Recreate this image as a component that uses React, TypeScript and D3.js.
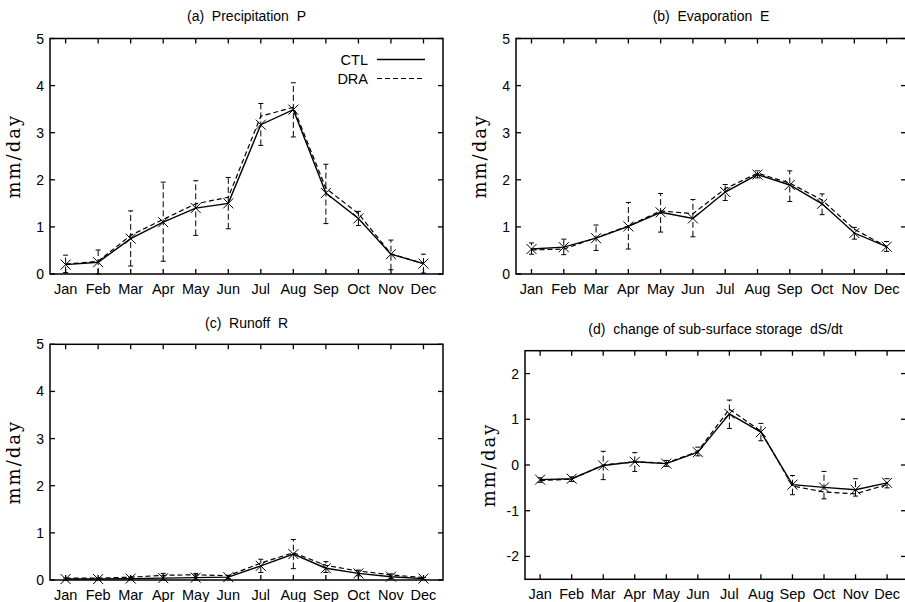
import * as d3 from 'd3';

// month labels
const months = ['Jan', 'Feb', 'Mar', 'Apr', 'May', 'Jun', 'Jul', 'Aug', 'Sep', 'Oct', 'Nov', 'Dec'];
const monthIdx = [1, 2, 3, 4, 5, 6, 7, 8, 9, 10, 11, 12];

// (a) precipitation
const precipCtl = [0.2, 0.25, 0.75, 1.1, 1.4, 1.5, 3.17, 3.49, 1.72, 1.18, 0.42, 0.22];
const precipDra = [0.21, 0.27, 0.82, 1.16, 1.49, 1.63, 3.35, 3.54, 1.82, 1.28, 0.43, 0.22];
const precipLo = [0.03, 0.0, 0.17, 0.27, 0.82, 0.96, 2.73, 2.91, 1.07, 1.03, 0.09, 0.02];
const precipHi = [0.4, 0.51, 1.34, 1.95, 1.98, 2.05, 3.62, 4.06, 2.33, 1.33, 0.72, 0.42];

// (b) evaporation
const evapCtl = [0.53, 0.57, 0.76, 1.01, 1.31, 1.18, 1.74, 2.11, 1.89, 1.49, 0.87, 0.58];
const evapDra = [0.51, 0.53, 0.77, 1.02, 1.34, 1.28, 1.81, 2.14, 1.93, 1.57, 0.95, 0.58];
const evapLo = [0.42, 0.41, 0.5, 0.53, 0.89, 0.79, 1.56, 2.04, 1.54, 1.26, 0.74, 0.48];
const evapHi = [0.66, 0.74, 1.04, 1.52, 1.71, 1.58, 1.9, 2.19, 2.19, 1.7, 0.99, 0.69];

// (c) runoff
const runoffCtl = [0.02, 0.02, 0.03, 0.04, 0.05, 0.06, 0.3, 0.55, 0.25, 0.14, 0.07, 0.03];
const runoffDra = [0.04, 0.04, 0.06, 0.1, 0.11, 0.09, 0.36, 0.58, 0.31, 0.19, 0.11, 0.05];
const runoffLo = [0.0, 0.0, 0.01, 0.0, 0.0, 0.03, 0.16, 0.24, 0.16, 0.09, 0.03, 0.01];
const runoffHi = [0.04, 0.04, 0.06, 0.14, 0.14, 0.1, 0.44, 0.86, 0.39, 0.21, 0.13, 0.05];

// (d) dS/dt
const dsdtCtl = [-0.32, -0.3, -0.01, 0.07, 0.03, 0.28, 1.12, 0.72, -0.43, -0.49, -0.54, -0.39];
const dsdtDra = [-0.34, -0.31, 0.0, 0.07, 0.04, 0.3, 1.22, 0.74, -0.46, -0.59, -0.63, -0.43];
const dsdtLo = [-0.38, -0.36, -0.32, -0.14, -0.03, 0.2, 0.8, 0.53, -0.65, -0.74, -0.68, -0.5];
const dsdtHi = [-0.28, -0.26, 0.3, 0.27, 0.1, 0.39, 1.42, 0.91, -0.23, -0.14, -0.3, -0.3];

const ticks05 = [0, 1, 2, 3, 4, 5];
const ticksPm2 = [-2, -1, 0, 1, 2];

const SANS = '"Liberation Sans", Arial, Helvetica, sans-serif';
const SERIF = '"DejaVu Serif", serif';
const DASH = '5,3';

interface PanelProps {
  title: string;
  left: number;
  right: number;
  top: number;
  bottom: number;
  yDomain: [number, number];
  yTicks: number[];
  ctl: number[];
  dra: number[];
  lo: number[];
  hi: number[];
  titleY: number;
  legend?: boolean;
}

function Panel(p: PanelProps) {
  const x = d3.scaleLinear().domain([0.52, 12.6]).range([p.left, p.right]);
  const y = d3.scaleLinear().domain(p.yDomain).range([p.bottom, p.top]);
  const line = d3
    .line<number>()
    .x((_, i) => x(monthIdx[i]))
    .y((d) => y(d));
  const tl = 5; // tick length (inward)
  const cs = 5; // cross half size
  const cap = 2.5;
  const cx = (p.left + p.right) / 2;
  const cy = (p.top + p.bottom) / 2;

  return (
    <g>
      <text x={cx} y={p.titleY} textAnchor="middle" fontFamily={SANS} fontSize={14} style={{ whiteSpace: 'pre' }}>
        {p.title}
      </text>
      <text
        transform={`translate(${p.left - 30},${cy}) rotate(-90)`}
        textAnchor="middle"
        fontFamily={SERIF}
        fontSize={18}
        letterSpacing={2}
      >
        mm/day
      </text>
      {/* y ticks */}
      {p.yTicks.map((t) => (
        <g key={'y' + t}>
          <line x1={p.left} x2={p.left + tl} y1={y(t)} y2={y(t)} stroke="#000" strokeWidth={1.3} />
          <line x1={p.right} x2={p.right - tl} y1={y(t)} y2={y(t)} stroke="#000" strokeWidth={1.3} />
          <text x={p.left - 6} y={y(t) + 5} textAnchor="end" fontFamily={SANS} fontSize={14}>
            {t}
          </text>
        </g>
      ))}
      {/* x ticks */}
      {months.map((m, i) => (
        <g key={m}>
          <line x1={x(monthIdx[i])} x2={x(monthIdx[i])} y1={p.bottom} y2={p.bottom - tl} stroke="#000" strokeWidth={1.3} />
          <line x1={x(monthIdx[i])} x2={x(monthIdx[i])} y1={p.top} y2={p.top + tl} stroke="#000" strokeWidth={1.3} />
          <text x={x(monthIdx[i])} y={p.bottom + 20} textAnchor="middle" fontFamily={SANS} fontSize={14.5}>
            {m}
          </text>
        </g>
      ))}
      {/* error bars */}
      {p.lo.map((lo, i) => {
        const xx = x(monthIdx[i]);
        return (
          <g key={'e' + i} stroke="#000" strokeWidth={1}>
            <line x1={xx} x2={xx} y1={y(lo)} y2={y(p.hi[i])} strokeDasharray="6,3" />
            <line x1={xx - cap} x2={xx + cap} y1={y(lo)} y2={y(lo)} />
            <line x1={xx - cap} x2={xx + cap} y1={y(p.hi[i])} y2={y(p.hi[i])} />
          </g>
        );
      })}
      <path d={line(p.dra) || ''} fill="none" stroke="#000" strokeWidth={1.2} strokeDasharray={DASH} />
      <path d={line(p.ctl) || ''} fill="none" stroke="#000" strokeWidth={1.4} />
      {/* cross markers */}
      {p.ctl.map((v, i) => {
        const xx = x(monthIdx[i]);
        const yy = y(v);
        return (
          <path
            key={'c' + i}
            d={`M${xx - cs},${yy - cs}L${xx + cs},${yy + cs}M${xx - cs},${yy + cs}L${xx + cs},${yy - cs}`}
            stroke="#000"
            strokeWidth={1}
          />
        );
      })}
      {p.legend && (
        <g fontFamily={SANS} fontSize={14.5}>
          <text x={p.right - 75} y={65} textAnchor="end">CTL</text>
          <line x1={p.right - 66} x2={p.right - 18} y1={59.5} y2={59.5} stroke="#000" strokeWidth={1.4} />
          <text x={p.right - 75} y={84} textAnchor="end">DRA</text>
          <line x1={p.right - 66} x2={p.right - 18} y1={78.5} y2={78.5} stroke="#000" strokeWidth={1.2} strokeDasharray={DASH} />
        </g>
      )}
      <rect x={p.left} y={p.top} width={p.right - p.left} height={p.bottom - p.top} fill="none" stroke="#000" strokeWidth={1.5} />
    </g>
  );
}

export default function App() {
  return (
    <svg width={905} height={602} style={{ position: 'absolute', left: 0, top: 0, background: '#fff' }}>
      <rect width={905} height={602} fill="#fff" />
      <Panel title="(a)  Precipitation  P" left={50} right={443} top={38.5} bottom={274} yDomain={[0, 5]} yTicks={ticks05}
        ctl={precipCtl} dra={precipDra} lo={precipLo} hi={precipHi} titleY={21} legend />
      <Panel title="(b)  Evaporation  E" left={516} right={906} top={38.5} bottom={274} yDomain={[0, 5]} yTicks={ticks05}
        ctl={evapCtl} dra={evapDra} lo={evapLo} hi={evapHi} titleY={21} />
      <Panel title="(c)  Runoff  R" left={50} right={443} top={344.3} bottom={580} yDomain={[0, 5]} yTicks={ticks05}
        ctl={runoffCtl} dra={runoffDra} lo={runoffLo} hi={runoffHi} titleY={328} />
      <Panel title="(d)  change of sub-surface storage  dS/dt" left={525} right={906} top={350.7} bottom={579.3} yDomain={[-2.5, 2.5]} yTicks={ticksPm2}
        ctl={dsdtCtl} dra={dsdtDra} lo={dsdtLo} hi={dsdtHi} titleY={334} />
    </svg>
  );
}
